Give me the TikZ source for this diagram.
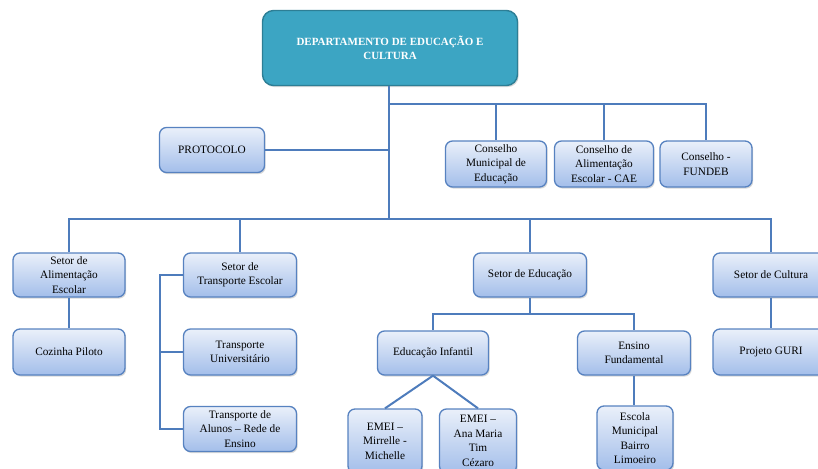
\documentclass[tikz,border=0pt]{standalone}
\usepackage{fontspec}
\setmainfont{Liberation Serif}
\usetikzlibrary{positioning, shadows, calc}
\definecolor{boxtop}{HTML}{EAF0FA}
\definecolor{boxbottom}{HTML}{A3BEEA}
\definecolor{boxline}{HTML}{5782C0}
\definecolor{linkblue}{HTML}{4E7CBC}
\definecolor{deptteal}{HTML}{3CA5C3}
\definecolor{deptline}{HTML}{2D7E95}

\begin{document}
\begin{tikzpicture}[x=1pt, y=-1pt,
  setor/.style={draw=boxline, line width=1.3pt, rounded corners=7pt,
    top color=boxtop, bottom color=boxbottom, align=center, inner sep=2pt,
    font=\fontsize{11.3}{14.5}\selectfont,
    drop shadow={opacity=0.3, shadow xshift=1.2pt, shadow yshift=-1.6pt}},
  link/.style={draw=linkblue, line width=2pt}]
  \useasboundingbox (0,0) rectangle (818,468);

  % Departamento
  \node[draw=deptline, line width=1.4pt, fill=deptteal, rounded corners=11pt,
    minimum width=255pt, minimum height=75pt, align=center, text=white,
    font=\fontsize{11}{13.5}\selectfont\bfseries,
    drop shadow={opacity=0.3, shadow xshift=1.2pt, shadow yshift=-1.6pt}]
    (dept) at (390,48) {DEPARTAMENTO DE EDUCAÇÃO E\\CULTURA};

  % Protocolo e conselhos
  \node[setor, minimum width=105pt, minimum height=45pt] (protocolo) at (212,150) {PROTOCOLO};
  \node[setor, minimum width=101pt, minimum height=46pt] (cme) at (496,164) {Conselho\\Municipal de\\Educação};
  \node[setor, minimum width=99pt, minimum height=46pt] (cae) at (604,164) {Conselho de\\Alimentação\\Escolar - CAE};
  \node[setor, minimum width=92pt, minimum height=46pt] (fundeb) at (706,164) {Conselho -\\FUNDEB};

  % Setores
  \node[setor, minimum width=112pt, minimum height=44pt] (alimentacao) at (69,275) {Setor de\\Alimentação\\Escolar};
  \node[setor, minimum width=113pt, minimum height=44pt] (transporte) at (240,275) {Setor de\\Transporte Escolar};
  \node[setor, minimum width=113pt, minimum height=44pt] (educacao) at (530,275) {Setor de Educação};
  \node[setor, minimum width=116pt, minimum height=44pt] (cultura) at (771,275) {Setor de Cultura};

  % Alimentacao e transporte
  \node[setor, minimum width=112pt, minimum height=46pt] (cozinha) at (69,352) {Cozinha Piloto};
  \node[setor, minimum width=113pt, minimum height=46pt] (univ) at (240,352) {Transporte\\Universitário};
  \node[setor, minimum width=113pt, minimum height=45pt] (alunos) at (240,429) {Transporte de\\Alunos – Rede de\\Ensino};

  % Educacao
  \node[setor, minimum width=111pt, minimum height=44pt] (infantil) at (433,353) {Educação Infantil};
  \node[setor, minimum width=113pt, minimum height=44pt] (fundamental) at (634,353) {Ensino\\Fundamental};
  \node[setor, minimum width=74pt, minimum height=64pt] (mirrelle) at (385,441) {EMEI –\\Mirrelle -\\Michelle};
  \node[setor, minimum width=77pt, minimum height=64pt] (anamaria) at (478,441) {EMEI –\\Ana Maria\\Tim\\Cézaro};
  \node[setor, minimum width=76pt, minimum height=64pt] (escola) at (635,438) {Escola\\Municipal\\Bairro\\Limoeiro};

  % Cultura
  \node[setor, minimum width=116pt, minimum height=46pt] (guri) at (771,352) {Projeto GURI};

  % Ligacoes
  \coordinate (upbus) at (389,104);
  \coordinate (lowbus) at (389,219);
  \draw[link] (dept.south -| lowbus) -- (lowbus);
  \draw[link] (upbus) -| (cme.north);
  \draw[link] (upbus) -| (cae.north);
  \draw[link] (upbus) -| (fundeb.north);
  \draw[link] (protocolo.east) -- (protocolo.east -| upbus);
  \draw[link] (lowbus) -| (alimentacao.north);
  \draw[link] (lowbus) -| (transporte.north);
  \draw[link] (lowbus) -| (educacao.north);
  \draw[link] (lowbus) -| (cultura.north);
  \draw[link] (alimentacao) -- (cozinha);
  \draw[link] (cultura) -- (guri);

  % Barra do transporte
  \coordinate (tbar) at (160,275);
  \draw[link] (transporte.west) -- (tbar) |- (alunos.west);
  \draw[link] (univ.west) -- (univ.west -| tbar);

  % Setor de educacao
  \coordinate (ebus) at (530,314);
  \draw[link] (educacao.south) -- (ebus);
  \draw[link] (ebus) -| (infantil.north);
  \draw[link] (ebus) -| (fundamental.north);
  \draw[link] (infantil.south) -- (mirrelle.north);
  \draw[link] (infantil.south) -- (anamaria.north);
  \draw[link] (fundamental.south) -- (escola.north -| fundamental.south);
\end{tikzpicture}
\end{document}
